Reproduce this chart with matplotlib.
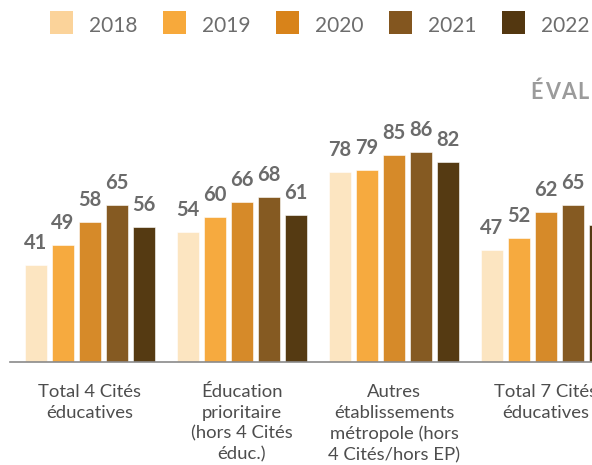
import numpy as np
import matplotlib.pyplot as plt
from matplotlib.patches import Rectangle

plt.rcParams['font.family'] = ['Lato', 'DejaVu Sans']

years = ['2018', '2019', '2020', '2021', '2022']
groups = ['Total 4 Cités\néducatives',
          'Éducation\nprioritaire\n(hors 4 Cités\néduc.)',
          'Autres\nétablissements\nmétropole (hors\n4 Cités/hors EP)',
          'Total 7 Cités\néducatives']
values = {
    '2018': [41, 54, 78, 47],
    '2019': [49, 60, 79, 52],
    '2020': [58, 66, 85, 62],
    '2021': [65, 68, 86, 65],
    '2022': [56, 61, 82, 57],
}
title = 'ÉVALUATIONS NATIONALES'
bar_colors = ['#fce5c1', '#f6aa3f', '#d68a29', '#855a22', '#553a12']
legend_colors = ['#fbd39a', '#f7a93b', '#d8831a', '#83561f', '#533710']

W, H = 592, 465
fig = plt.figure(figsize=(W / 100, H / 100), dpi=100)


def fx(px):
    return px / W


def fy(py):
    return (H - py) / H


# axes spans from x=10px past the right edge, baseline at y=361.5px
ymin, ymax = 2.6, 100
scale = 2.51
base = 361.5
top = base - scale * (ymax - ymin)
ax = fig.add_axes([fx(10), fy(base), (W - 10) / W, (base - top) / H])

x = np.arange(len(groups))
step = 27 / 152
width = 21.7 / 152
for i, yr in enumerate(years):
    pos = x + (i - 2) * step
    ax.bar(pos, values[yr], width, color=bar_colors[i],
           edgecolor='white', linewidth=0.4)
    for xp, v in zip(pos, values[yr]):
        ax.annotate(str(v), (xp, v), xytext=(0, 16), textcoords='offset pixels',
                    ha='center', va='baseline', fontsize=14.5, fontweight='bold',
                    color='#6b6b6b')

ax.set_xlim((10 - 90) / 152, (W - 90) / 152)
ax.set_ylim(ymin, ymax)
ax.set_xticks(x)
ax.set_xticklabels(groups, fontsize=13.3, color='#4d4d4d', linespacing=1.38)
ax.tick_params(axis='x', length=0, pad=16)
ax.set_yticks([])
for s in ['top', 'right', 'left']:
    ax.spines[s].set_visible(False)
ax.spines['bottom'].set_color('#8a8a8a')
ax.spines['bottom'].set_linewidth(1.2)

# legend row: square + year label, one slot every 113px
for i, yr in enumerate(years):
    x0 = 50 + 113 * i
    fig.add_artist(Rectangle((fx(x0), fy(33.7)), 22.7 / W, 22.7 / H,
                             transform=fig.transFigure, color=legend_colors[i],
                             linewidth=0))
    fig.text(fx(x0 + 39), fy(31.7), yr, fontsize=15, color='#6d6d6d',
             ha='left', va='baseline')

# lightly letter-spaced heading, runs off the right edge:
# each letter is right-aligned at the end of its prefix, plus tracking
renderer = fig.canvas.get_renderer()
title_style = dict(fontsize=15.5, fontweight='bold', color='#9b9b9b',
                   va='baseline')
x_start = 530.7
track = 1.6
for k, ch in enumerate(title):
    if ch == ' ':
        continue
    probe = fig.text(0, 0, title[:k + 1], **title_style)
    w = probe.get_window_extent(renderer).width
    probe.remove()
    fig.text(fx(x_start + w + k * track), fy(98.7), ch, ha='right',
             **title_style)

fig.savefig('out.png', dpi=100)
